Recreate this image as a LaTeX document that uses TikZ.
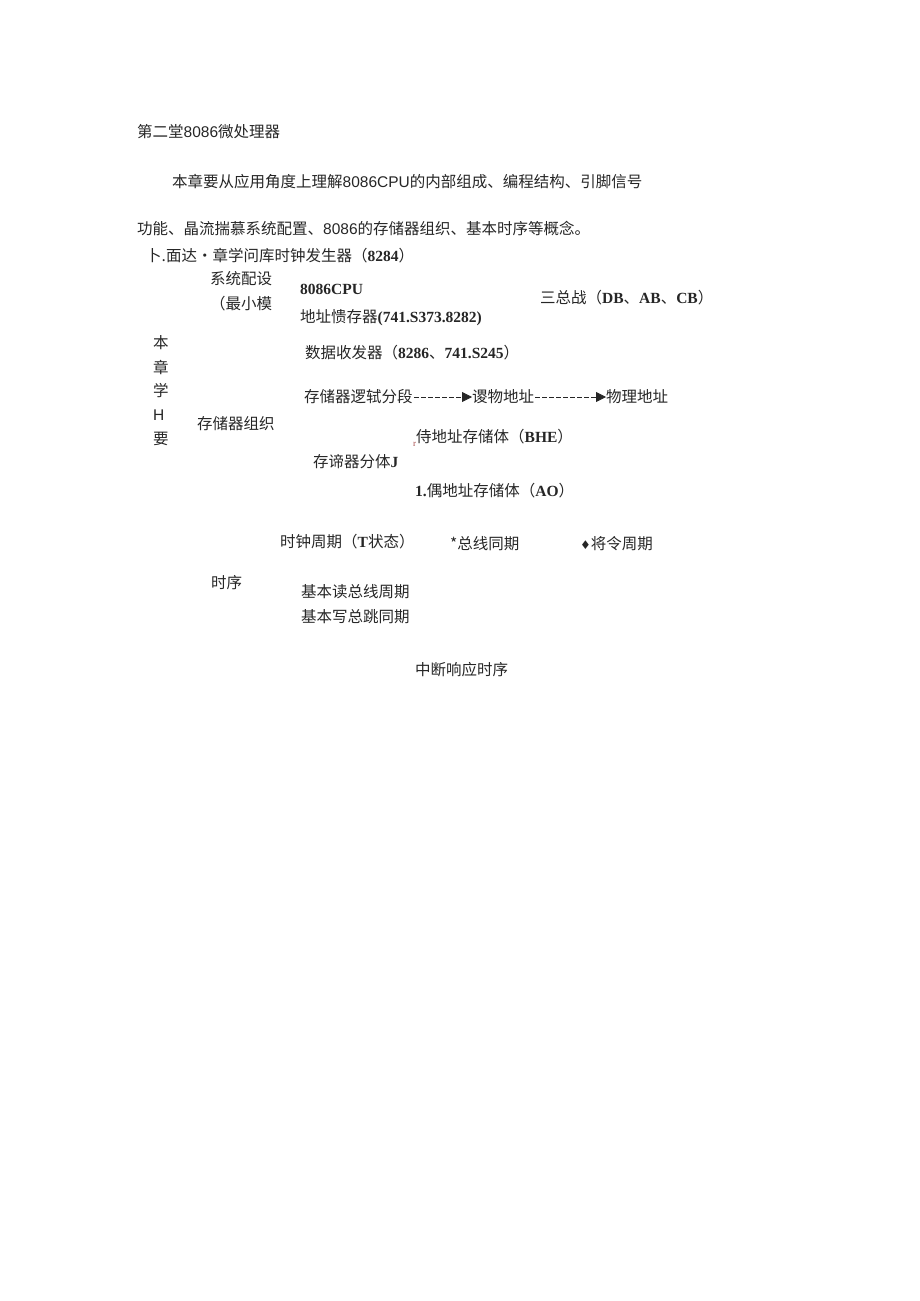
\documentclass[tikz,border=0pt]{standalone}
\usepackage{fontspec}
\setmainfont{Liberation Serif}
\newfontfamily\cjk{Noto Sans CJK SC}
\newfontfamily\lsans{Liberation Sans}
\newfontfamily\dvs{DejaVu Sans}
\newcommand\tb[1]{{\rmfamily\bfseries #1}}
\newcommand\ar[1]{{\lsans #1}}
\usetikzlibrary{arrows.meta}
\begin{document}
\begin{tikzpicture}[x=1pt,y=-1pt,
  txt/.style={anchor=west,inner sep=0pt,font=\fontsize{15.5}{18}\selectfont\cjk,text=black!85},
  dasharrow/.style={draw=black!85,line width=0.8pt,dash pattern=on 5pt off 2pt,-{Triangle[length=10pt,width=10pt]}}]
\useasboundingbox (0,0) rectangle (920,1301);
\node[txt] (title) at (137,132) {第二堂\ar{8086}微处理器};
\node[txt] (p1) at (172,182) {本章要从应用角度上理解\ar{8086CPU}的内部组成、编程结构、引脚信号};
\node[txt] (p2) at (137,228) {功能、晶流揣慕系统配置、\ar{8086}的存储器组织、基本时序等概念。};
\node[txt] (p3) at (146,256) {卜.面达•章学问库时钟发生器（\tb{8284}）};
\node[txt] (sys1) at (210,279) {系统配设};
\node[txt] (sys2) at (210,304) {（最小模};
\node[txt] (cpu) at (300,289) {\tb{8086CPU}};
\node[txt] (latch) at (300,318) {地址愦存器\tb{(741.S373.8282)}};
\node[txt] (bus) at (540,298) {三总战（\tb{DB}、\tb{AB}、\tb{CB}）};
\node[txt] (v1) at (153,343) {本};
\node[txt] (v2) at (153,367) {章};
\node[txt] (v3) at (153,391) {学};
\node[txt] (v4) at (153,415) {\ar{H}};
\node[txt] (v5) at (153,439) {要};
\node[txt] (xcvr) at (305,353) {数据收发器（\tb{8286}、\tb{741.S245}）};
\node[txt] (seg) at (304,397) {存储器逻轼分段};
\node[txt] (vaddr) at (472,397) {谡物地址};
\node[txt] (paddr) at (606,397) {物理地址};
\draw[dasharrow] ([xshift=1pt]seg.east) -- (vaddr.west);
\draw[dasharrow] ([xshift=1pt]vaddr.east) -- (paddr.west);
\node[txt] (org) at (197,424) {存储器组织};
\node[txt] (bhe) at (413,438) {\raisebox{-4pt}{\fontsize{9}{10}\selectfont\rmfamily\color{red!50!black!70}r}侍地址存储体（\tb{BHE}）};
\node[txt] (bank) at (313,462) {存谛器分体\tb{J}};
\node[txt] (ao) at (415,491) {\tb{1.}偶地址存储体（\tb{AO}）};
\node[txt] (clk) at (280,542) {时钟周期（\tb{T}状态）};
\node[txt] (buscyc) at (450,544) {*总线同期};
\node[txt] (inst) at (580,544) {{\dvs\fontsize{12}{13}\selectfont ♦}将令周期};
\node[txt] (timing) at (211,583) {时序};
\node[txt] (rd) at (301,592) {基本读总线周期};
\node[txt] (wr) at (301,617) {基本写总跳同期};
\node[txt] (intr) at (415,670) {中断响应时序};
\end{tikzpicture}
\end{document}
